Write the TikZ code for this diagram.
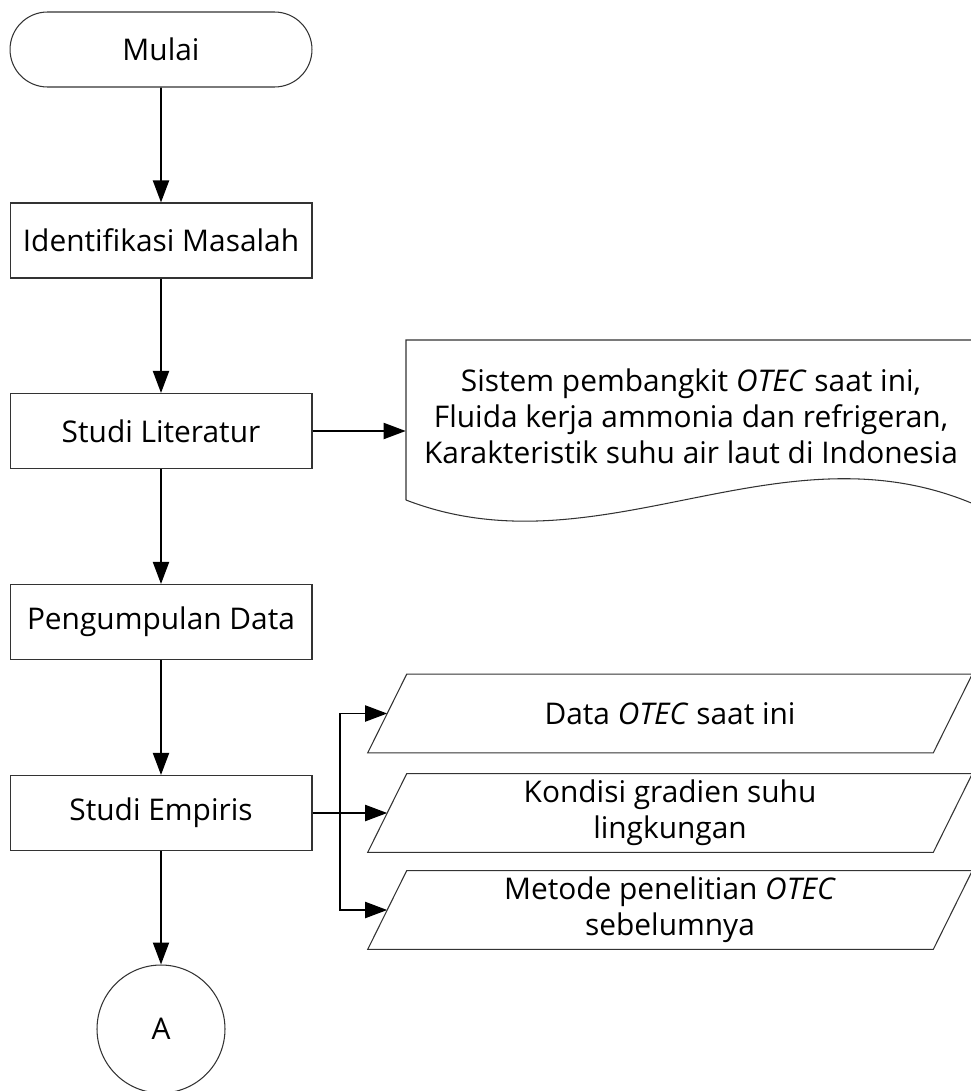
\documentclass[tikz,border=0pt]{standalone}
\usepackage{fontspec}
\setmainfont{Open Sans}
\usetikzlibrary{arrows.meta, shapes.misc, positioning}

\tikzset{
  flow/.style={draw=black!80, line width=0.6pt, minimum width=6.04cm, minimum height=1.5cm, inner sep=0pt},
  terminal/.style={flow, rounded rectangle},
  process/.style={flow, rectangle},
  connector/.style={draw=black!80, line width=0.6pt, circle, minimum size=2.56cm, inner sep=0pt},
  io/.style={rectangle, minimum width=11.3cm, minimum height=1.56cm, align=center, inner sep=0pt},
  outline/.style={draw=black!80, line width=0.6pt},
  line/.style={line width=1.1pt, -{Triangle[length=0.44cm, width=0.32cm]}},
}

\begin{document}
\begin{tikzpicture}[x=0.02cm, y=-0.02cm, font=\fontsize{17}{20.4}\selectfont]
\useasboundingbox (0,0) rectangle (970,1091);

\node[terminal] (mulai) at (161,49.5) {Mulai};
\node[process] (identifikasi) at (161,240.5) {Identifikasi Masalah};
\node[process] (literatur) at (161,431) {Studi Literatur};
\node[process] (pengumpulan) at (161,622) {Pengumpulan Data};
\node[process] (empiris) at (161,813) {Studi Empiris};
\node[connector] (a) at (161,1029) {A};

\node[align=center, minimum width=11.4cm, inner sep=0pt] (pustaka) at (691,416) {
Sistem pembangkit \textit{OTEC} saat ini,\\
Fluida kerja ammonia dan refrigeran,\\
Karakteristik suhu air laut di Indonesia
};

\node[io] (data1) at (670,713.5) {Data \textit{OTEC} saat ini};
\node[io] (data2) at (670,813) {Kondisi gradien suhu\\lingkungan};
\node[io] (data3) at (670,910) {Metode penelitian \textit{OTEC}\\sebelumnya};

% document shape
\draw[outline] (406,500) -- (406,340) -- (976,340) -- (976,505)
  .. controls (780,420) and (600,575) .. (406,500);

% data parallelograms
\foreach \d in {data1,data2,data3}
  \draw[outline] ([xshift=0.39cm]\d.north west) -- ([xshift=0.39cm]\d.north east)
    -- ([xshift=-0.39cm]\d.south east) -- ([xshift=-0.39cm]\d.south west) -- cycle;

\draw[line] (mulai) -- (identifikasi);
\draw[line] (identifikasi) -- (literatur);
\draw[line] (literatur) -- (pengumpulan);
\draw[line] (pengumpulan) -- (empiris);
\draw[line] (empiris) -- (a);
\draw[line] (literatur.east) -- (literatur.east -| pustaka.west);

\coordinate (fork) at (340,813);
\draw[line] (empiris.east) -- (data2.west);
\draw[line] (fork) |- (data1.west);
\draw[line] (fork) |- (data3.west);

\end{tikzpicture}
\end{document}
